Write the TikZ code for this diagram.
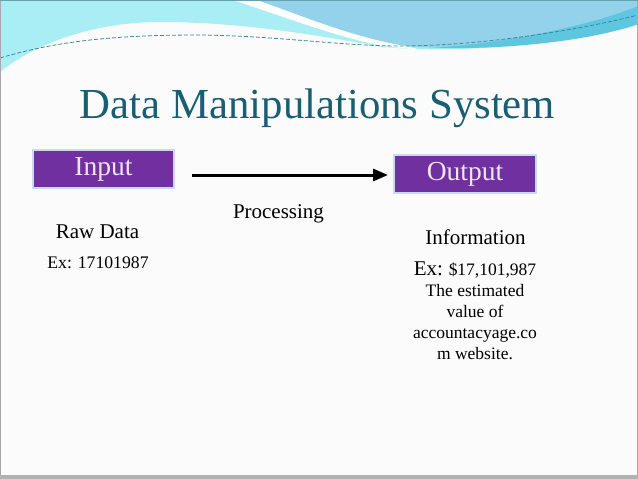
\documentclass[tikz,border=0pt]{standalone}
\usepackage{fontspec}
\setmainfont{Liberation Serif}
\usetikzlibrary{arrows.meta}
\definecolor{slidebg}{HTML}{FBFBFB}
\definecolor{cyanwave}{HTML}{A8EEF4}
\definecolor{bluewave}{HTML}{93D2EA}
\definecolor{darkband}{HTML}{5EC6DF}
\definecolor{dashcol}{HTML}{3E8A9A}
\definecolor{titlecol}{HTML}{1A5E74}
\definecolor{boxfill}{HTML}{7030A0}
\definecolor{boxline}{HTML}{C9DAF0}
\definecolor{boxtext}{HTML}{EDE4F6}
\definecolor{framecol}{HTML}{A8A8A8}
\tikzset{
  pbox/.style={draw=boxline, line width=1.2pt, fill=boxfill, text=boxtext,
    minimum height=38pt, inner sep=0pt, font=\fontsize{27.5}{30}\selectfont},
  btext/.style={inner sep=0pt, align=center, text=black},
}
\begin{document}
\begin{tikzpicture}[x=1pt,y=-1pt]
\useasboundingbox (0,0) rectangle (638,479);
\fill[slidebg] (0,0) rectangle (638,479);
% top waves
\fill[cyanwave] (0,0) -- (638,0) -- (638,25)
  .. controls (580,40) and (480,55) .. (383,47)
  .. controls (330,38) and (250,22) .. (160,22)
  .. controls (100,22) and (40,40) .. (0,72) -- cycle;
\fill[white] (233,0) -- (257,0) -- (383,46)
  .. controls (330,35) and (280,15) .. (233,0) -- cycle;
\fill[white] (233,0) .. controls (280,15) and (330,35) .. (383,46)
  -- (420,50) -- (257,0) -- cycle;
\fill[bluewave] (257,0) .. controls (300,15) and (350,36) .. (400,45)
  .. controls (460,54) and (560,40) .. (638,18) -- (638,0) -- cycle;
\fill[darkband] (430,48) .. controls (520,42) and (600,22) .. (638,6)
  -- (638,24) .. controls (600,38) and (520,50) .. (430,48) -- cycle;
\draw[dashcol, dashed, line width=0.8pt, dash pattern=on 4pt off 2pt]
  (0,58) .. controls (60,40) and (120,35) .. (200,35)
  .. controls (280,36) and (340,46) .. (400,46)
  .. controls (480,46) and (580,30) .. (638,15);
% frame
\draw[framecol, line width=1pt] (0.5,0.5) rectangle (637.5,478.5);
\fill[framecol!90] (0,475) rectangle (638,479);
\draw[dashcol!80, line width=1pt] (0,0.5) -- (638,0.5);
% title
\node[btext, text=titlecol, font=\fontsize{42.8}{48}\selectfont] (title) at (317.5,108) {Data Manipulations System};
% boxes
\node[pbox, minimum width=141pt] (in) at (103.5,169) {Input};
\node[pbox, minimum width=142pt] (out) at (465,174) {Output};
% arrow
\coordinate (a1) at (192,175);
\coordinate (a2) at (388,175);
\draw[line width=3pt, -{Triangle[length=15pt,width=12pt]}] (a1) -- (a2);
\node[btext, font=\fontsize{21}{24}\selectfont] (proc) at (278.5,214) {Processing};
% left texts
\node[btext, font=\fontsize{21}{24}\selectfont] (raw) at (97.5,232) {Raw Data};
\node[btext, font=\fontsize{17.7}{20}\selectfont] (ex1) at (98,263) {Ex: 17101987};
% right texts
\node[btext, font=\fontsize{21}{24}\selectfont] (info) at (475.5,237) {Information};
\node[btext, font=\fontsize{17.5}{21}\selectfont, anchor=north] (ex2) at (475,262)
  {{\fontsize{21}{21}\selectfont Ex:} \$17,101,987\\The estimated\\value of\\accountacyage.co\\m website.};
\end{tikzpicture}
\end{document}
